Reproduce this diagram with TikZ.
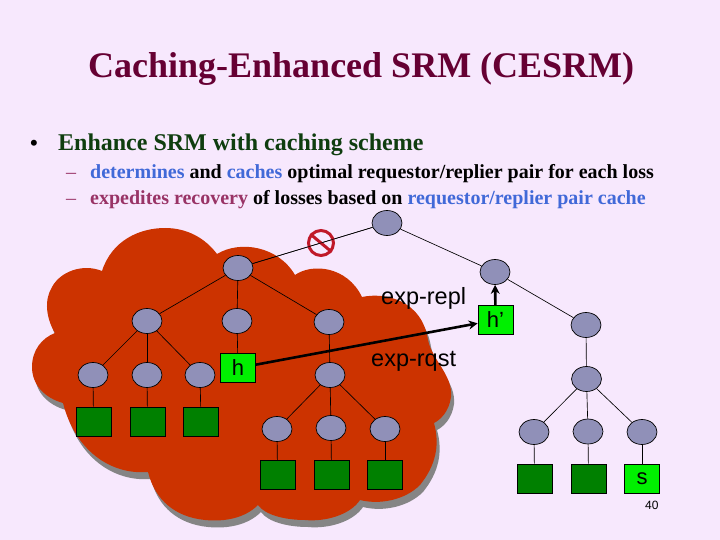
\documentclass[tikz,border=0pt]{standalone}
\usepackage{fontspec}
\setmainfont{Liberation Serif}
\newfontfamily\labelfont{Liberation Sans}
\usetikzlibrary{shapes.geometric,arrows.meta}
\definecolor{pagebg}{HTML}{F7E8FD}
\definecolor{cloudred}{HTML}{CC3300}
\definecolor{cloudshadow}{HTML}{858585}
\definecolor{routerfill}{HTML}{9090B8}
\definecolor{hostgreen}{HTML}{008000}
\definecolor{activegreen}{HTML}{00F000}
\definecolor{titlecol}{HTML}{660033}
\definecolor{headcol}{HTML}{0F3D0F}
\definecolor{bluecol}{HTML}{4169D8}
\definecolor{mauvecol}{HTML}{993366}
\definecolor{signred}{HTML}{C01828}
\tikzset{
  router/.style={ellipse,draw=black,fill=routerfill,line width=0.7pt,minimum width=30pt,minimum height=25pt,inner sep=0pt},
  hostbox/.style={rectangle,draw=black,fill=hostgreen,line width=0.7pt,minimum width=35pt,minimum height=29pt,inner sep=0pt},
  activebox/.style={hostbox,fill=activegreen,font=\labelfont\fontsize{22}{22}\selectfont},
  link/.style={draw=black,line width=0.65pt},
  msg/.style={draw=black,line width=2.6pt,-{Stealth[length=9pt,width=9pt]}},
  textline/.style={anchor=base west,inner sep=0pt},
  netlabel/.style={anchor=base west,inner sep=0pt,font=\labelfont\fontsize{23.5}{24}\selectfont}
}
\def\cloudpath{(32,367)
 .. controls (32,350) and (42,338) .. (55,333)
 .. controls (46,318) and (44,300) .. (52,287)
 .. controls (60,272) and (82,263) .. (102,271)
 .. controls (112,240) and (140,228) .. (165,228)
 .. controls (187,228) and (205,238) .. (217,254)
 .. controls (240,240) and (278,246) .. (295,275)
 .. controls (312,263) and (347,266) .. (362,297)
 .. controls (385,292) and (422,300) .. (428,340)
 .. controls (432,360) and (453,375) .. (451,397)
 .. controls (449,412) and (440,420) .. (434,423)
 .. controls (440,445) and (436,465) .. (420,485)
 .. controls (405,500) and (380,505) .. (360,500)
 .. controls (350,515) and (325,522) .. (305,520)
 .. controls (285,520) and (265,515) .. (258,505)
 .. controls (245,518) and (225,522) .. (205,520)
 .. controls (175,517) and (155,500) .. (148,472)
 .. controls (110,475) and (75,450) .. (63,403)
 .. controls (45,398) and (32,385) .. (32,367) -- cycle}
\begin{document}
\begin{tikzpicture}[x=1pt,y=-1pt]
\useasboundingbox (0,0) rectangle (720,540);
\fill[pagebg] (0,0) rectangle (720,540);
% cloud
\begin{scope}[shift={(3,7)}]
\fill[cloudshadow] \cloudpath;
\end{scope}
\fill[cloudred] \cloudpath;
% text
\node[textline,font=\bfseries\fontsize{36}{36}\selectfont,text=titlecol] (title) at (88,77.5) {Caching-Enhanced SRM (CESRM)};
\node[textline,font=\bfseries\fontsize{22}{22}\selectfont] (bullet) at (30,151) {•};
\node[textline,font=\bfseries\fontsize{24}{24}\selectfont,text=headcol] (head) at (58,151) {Enhance SRM with caching scheme};
\node[textline,font=\fontsize{20}{20}\selectfont,text=mauvecol] (dashone) at (66,179) {–};
\node[textline,font=\fontsize{20}{20}\selectfont,text=mauvecol] (dashtwo) at (66,205) {–};
\node[textline,font=\bfseries\fontsize{20}{20}\selectfont] (subone) at (90,179) {\textcolor{bluecol}{determines} and \textcolor{bluecol}{caches} optimal requestor/replier pair for each loss};
\node[textline,font=\bfseries\fontsize{20}{20}\selectfont] (subtwo) at (90,205) {\textcolor{mauvecol}{expedites recovery} of losses based on \textcolor{bluecol}{requestor/replier pair cache}};
% routers
\node[router] (root) at (387,223) {};
\node[router] (a) at (238,268) {};
\node[router] (b) at (147,321) {};
\node[router] (c) at (237,321) {};
\node[router] (d) at (329,322) {};
\node[router] (e) at (93,375) {};
\node[router] (f) at (147,375) {};
\node[router] (g) at (200,375) {};
\node[router] (i) at (330,375) {};
\node[router] (j) at (277,429) {};
\node[router] (k) at (331,428) {};
\node[router] (l) at (385,429) {};
\node[router] (p) at (495,272) {};
\node[router] (q) at (586,325) {};
\node[router] (r) at (586.5,379) {};
\node[router] (t) at (534,432) {};
\node[router] (u) at (588,431.5) {};
\node[router] (v) at (642,432) {};
% hosts
\node[hostbox] (he) at (93.5,421.5) {};
\node[hostbox] (hf) at (147.5,421.5) {};
\node[hostbox] (hg) at (201,421.5) {};
\node[hostbox] (hj) at (277.5,475) {};
\node[hostbox] (hk) at (331.5,475) {};
\node[hostbox] (hl) at (385,475) {};
\node[hostbox] (ht) at (534.5,478.5) {};
\node[hostbox] (hu) at (588.5,478.5) {};
\node[activebox] (hs) at (642,478.5) {s};
\node[activebox] (hh) at (238,368) {h};
\node[activebox] (hp) at (495.5,320) {h’};
% links
\foreach \u/\v in {root/a,root/p,a/b,a/c,a/d,b/e,b/f,b/g,c/hh,d/i,i/j,i/k,i/l,p/q,q/r,r/t,r/u,r/v,e/he,f/hf,g/hg,j/hj,k/hk,l/hl,t/ht,u/hu,v/hs}
  \draw[link] (\u) -- (\v);
% no-entry sign
\node[circle,draw=signred,line width=3pt,minimum size=25pt,inner sep=0pt] (nosign) at (321,243) {};
\draw[signred,line width=3pt] (nosign.140) -- (nosign.320);
\draw[link,line width=0.5pt] (a) -- (root);
% messages
\draw[msg] (hh) -- (hp);
\draw[msg] (hp) -- (p);
% labels
\node[netlabel] (repl) at (381,304) {exp-repl};
\node[netlabel] (rqst) at (371,366) {exp-rqst};
\node[anchor=base west,inner sep=0pt,font=\labelfont\fontsize{12}{12}\selectfont] (pageno) at (645,509) {40};
\end{tikzpicture}
\end{document}
